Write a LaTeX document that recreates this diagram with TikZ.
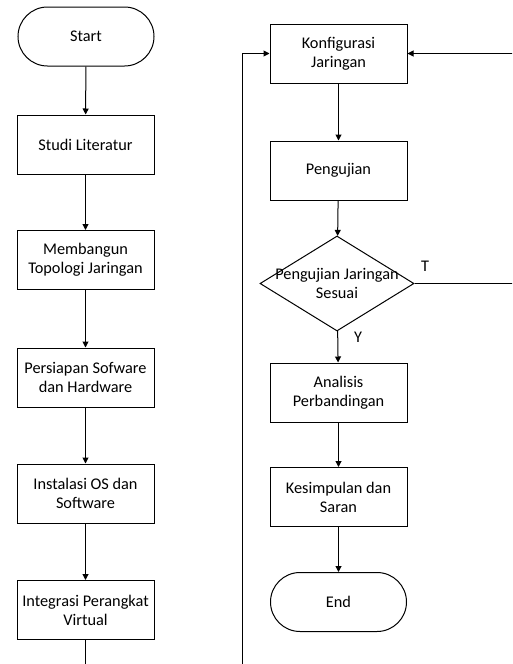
\documentclass[tikz,border=0pt]{standalone}
\usepackage{fontspec}
\setmainfont{Carlito}
\usetikzlibrary{shapes.geometric,shapes.misc,arrows.meta}
\tikzset{
  proses/.style={draw, rectangle, minimum width=137pt, minimum height=59pt,
    align=center, inner sep=1pt},
  terminal/.style={draw, rounded rectangle, minimum width=138pt,
    minimum height=59pt, inner sep=1pt},
  keputusan/.style={draw, diamond, minimum width=154pt, minimum height=95pt,
    inner sep=0pt},
}
\begin{document}
\begin{tikzpicture}[x=1pt, y=-1pt, line width=1pt,
    font=\fontsize{16.3}{19}\selectfont,
    >={Triangle[length=6pt,width=6pt]}]
      \clip (0,0) rectangle (512,664);
      % kolom kiri
      \node[terminal] (start) at (86,36.5) {Start};
      \node[proses] (studi) at (85.5,144.5) {Studi Literatur};
      \node[proses] (topologi) at (85.5,260) {Membangun\\Topologi Jaringan};
      \node[proses] (persiapan) at (85.5,377.5) {Persiapan Sofware\\dan Hardware};
      \node[proses] (instalasi) at (85.5,493.5) {Instalasi OS dan\\Software};
      \node[proses] (integrasi) at (85.5,610) {Integrasi Perangkat\\Virtual};
      % kolom kanan
      \node[proses] (konfigurasi) at (338.5,53.5) {Konfigurasi\\Jaringan};
      \node[proses] (pengujian) at (338.5,170.5) {Pengujian};
      \node[keputusan, label={[align=center]center:Pengujian Jaringan\\Sesuai}]
        (sesuai) at (337,283.5) {};
      \node[proses] (analisis) at (338.5,392.5) {Analisis\\Perbandingan};
      \node[proses] (kesimpulan) at (338.5,497) {Kesimpulan dan\\Saran};
      \node[terminal] (end) at (338.5,602) {End};
      \node (t) at (425,266) {T};
      \node (y) at (358,337) {Y};
      \coordinate (bawah) at (242,700);
      \coordinate (kanan) at (530,283.5);
      \begin{scope}[->]
        \draw (start) to (studi);
        \draw (studi) to (topologi);
        \draw (topologi) to (persiapan);
        \draw (persiapan) to (instalasi);
        \draw (instalasi) to (integrasi);
        \draw (integrasi) |- (bawah) |- (konfigurasi);
        \draw (konfigurasi) to (pengujian);
        \draw (pengujian) to (sesuai);
        \draw (sesuai) to (analisis);
        \draw (sesuai.east) -- (kanan) |- (konfigurasi);
        \draw (analisis) to (kesimpulan);
        \draw (kesimpulan) to (end);
      \end{scope}
    \end{tikzpicture}
\end{document}
